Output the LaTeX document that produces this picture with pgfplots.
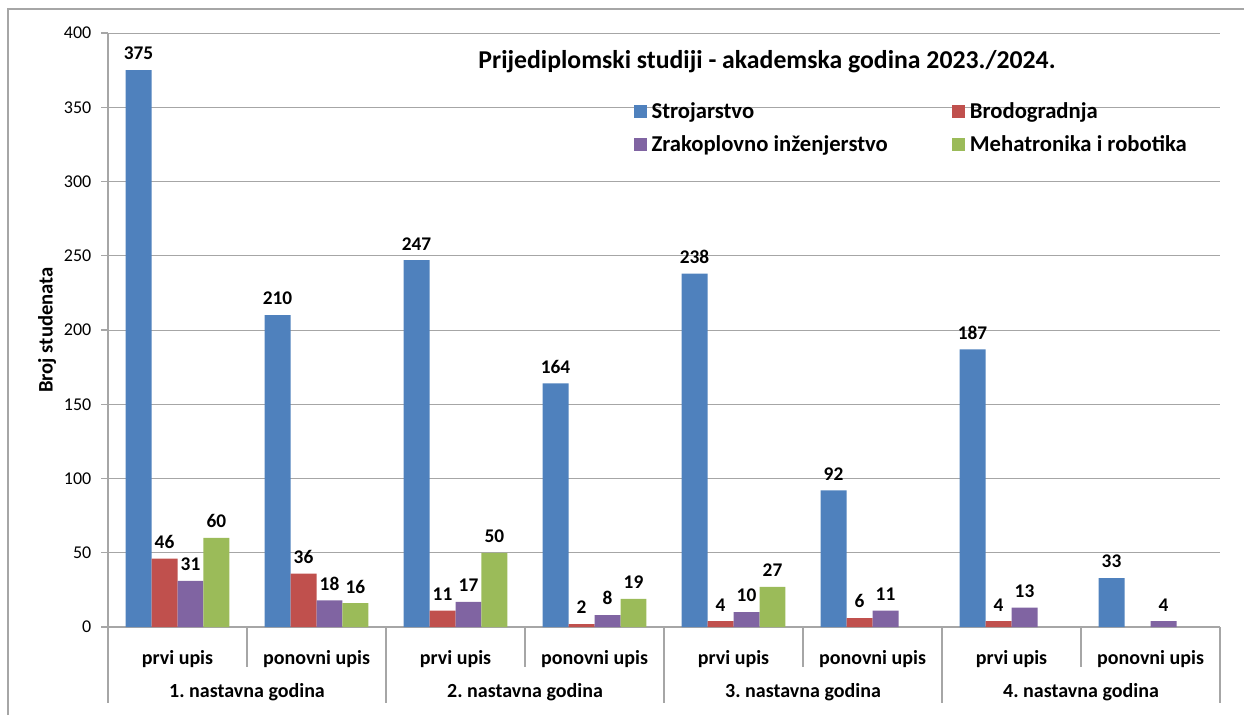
\documentclass[border=0pt]{standalone}
\usepackage{fontspec}
\setmainfont{Carlito}
\usepackage{pgfplots}
\pgfplotsset{compat=1.18}
\definecolor{cBlue}{HTML}{4F81BD}
\definecolor{cRed}{HTML}{C0504D}
\definecolor{cPurple}{HTML}{8064A2}
\definecolor{cGreen}{HTML}{9BBB59}
\definecolor{cGrid}{HTML}{A6A6A6}
\frenchspacing
\newcommand{\yt}[1]{\fontsize{13.5}{15}\selectfont #1}
\begin{document}
\begin{tikzpicture}
\useasboundingbox (0,0) rectangle (933pt,536.25pt);
\draw[cGrid, line width=0.8pt] (6pt,0) -- (6pt,529.5pt) -- (933pt,529.5pt);
\begin{axis}[
  at={(81pt,66pt)}, anchor=south west,
  scale only axis, width=834pt, height=445.5pt,
  ybar=0pt, bar width=0.187,
  xmin=-0.5, xmax=7.5, ymin=0, ymax=400,
  xtick={0,...,7},
  xticklabels={prvi upis, ponovni upis, prvi upis, ponovni upis, prvi upis, ponovni upis, prvi upis, ponovni upis},
  xticklabel style={font=\bfseries\fontsize{15}{17}\selectfont, yshift=-9pt},
  major x tick style={draw=none},
  ytick={0,50,...,400},
  yticklabels={\yt{0},\yt{50},\yt{100},\yt{150},\yt{200},\yt{250},\yt{300},\yt{350},\yt{400}},
  yticklabel style={font=\fontsize{13.5}{15}\selectfont, xshift=-4pt},
  /pgf/number format/assume math mode=true,
  ymajorgrids, grid style={cGrid, line width=0.6pt},
  axis x line*=bottom, axis y line*=left,
  axis line style={cGrid, line width=0.8pt, -},
  tick align=outside, major tick length=5pt,
  major y tick style={cGrid, line width=0.8pt},
  nodes near coords,
  every node near coord/.append style={font=\bfseries\fontsize{14.5}{16}\selectfont, black, yshift=4pt},
  clip=false,
  legend columns=2,
  legend style={draw=none, fill=none, at={(0.469,0.892)}, anchor=north west,
    font=\bfseries\fontsize{17}{19}\selectfont, row sep=7.5pt,
    /tikz/every odd column/.style={column sep=0pt}},
  legend cell align=left,
  legend image code/.code={\fill[#1] (0pt,-4.9pt) rectangle (9.8pt,4.9pt);},
]
\addplot[fill=cBlue, draw=none] coordinates {(0,375)(1,210)(2,247)(3,164)(4,238)(5,92)(6,187)(7,33)};
\addplot[fill=cRed, draw=none] coordinates {(0,46)(1,36)(2,11)(3,2)(4,4)(5,6)(6,4)};
\addplot[fill=cPurple, draw=none] coordinates {(0,31)(1,18)(2,17)(3,8)(4,10)(5,11)(6,13)(7,4)};
\addplot[fill=cGreen, draw=none] coordinates {(0,60)(1,16)(2,50)(3,19)(4,27)};
\legend{\hspace{1.5pt}Strojarstvo, \hspace{1.5pt}Brodogradnja, \makebox[225pt][l]{\hspace{1.5pt}Zrakoplovno inženjerstvo}, \hspace{1.5pt}Mehatronika i robotika}
\foreach \xx in {0.5,2.5,4.5,6.5} {
  \edef\tmp{\noexpand\draw[cGrid, line width=0.8pt] (axis cs:\xx,0) -- ([yshift=-30pt]axis cs:\xx,0);}\tmp
}
\foreach \xx in {-0.5,1.5,3.5,5.5,7.5} {
  \edef\tmp{\noexpand\draw[cGrid, line width=0.8pt] (axis cs:\xx,0) -- ([yshift=-57pt]axis cs:\xx,0);}\tmp
}
\foreach \xx/\lab in {0.5/1, 2.5/2, 4.5/3, 6.5/4} {
  \edef\tmp{\noexpand\node[font=\noexpand\bfseries\noexpand\fontsize{15}{17}\noexpand\selectfont] at ([yshift=-48.75pt]axis cs:\xx,0) {\lab. nastavna godina};}\tmp
}
\node[font=\bfseries\fontsize{19.3}{21}\selectfont] at (rel axis cs:0.5926,0.951) {Prijediplomski studiji - akademska godina 2023./2024.};
\node[rotate=90, font=\bfseries\fontsize{15.5}{17}\selectfont] at ([xshift=-45.75pt]rel axis cs:0,0.5) {Broj studenata};
\end{axis}
\end{tikzpicture}
\end{document}
